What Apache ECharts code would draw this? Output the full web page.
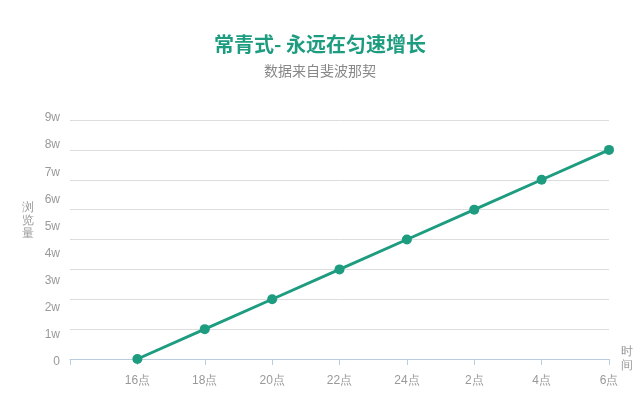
<!doctype html>
<html>
<head>
  <meta charset="utf-8">
  <script src="https://cdn.jsdelivr.net/npm/echarts@6/dist/echarts.min.js"></script>
  <style>
    html, body { width: 100%; height: 100%; margin: 0; background: #fff; }
    #main { width: 640px; height: 400px; }
  </style>
</head>
<body>
  <div id="main"></div>
  <script>
    // 数据
    var hours = ['', '16点', '18点', '20点', '22点', '24点', '2点', '4点', '6点'];
    var views = ['-', 0, 10000, 20000, 30000, 40000, 50000, 60000, 70000];
    var yLabels = ['0', '1w', '2w', '3w', '4w', '5w', '6w', '7w', '8w', '9w'];
    var mainColor = '#1d9c80';

    var chart = echarts.init(document.getElementById('main'));
    var option = {
      title: {
        text: '常青式- 永远在匀速增长',
        subtext: '数据来自斐波那契',
        left: 'center',
        top: 29,
        itemGap: 10,
        textStyle: { color: mainColor, fontSize: 20, fontWeight: 'bold', fontFamily: 'Noto Sans CJK SC' },
        subtextStyle: { color: '#888', fontSize: 14, fontFamily: 'Noto Sans CJK SC' }
      },
      grid: [
        { left: 70, right: 31, top: 120, bottom: 41 },
        { left: 70, right: 31, top: 118, bottom: 38 }
      ],
      xAxis: [{
        type: 'category',
        boundaryGap: false,
        data: hours,
        name: '时\n间',
        nameLocation: 'end',
        nameGap: 12,
        nameTextStyle: { color: '#999', fontSize: 12, lineHeight: 14, align: 'left', verticalAlign: 'middle' },
        axisLine: { lineStyle: { color: '#b8cde0' } },
        axisTick: { length: 6, lineStyle: { color: '#b8cde0' } },
        axisLabel: { color: '#999', fontSize: 12, margin: 16 }
      }, {
        gridIndex: 1,
        type: 'category',
        data: hours,
        show: false
      }],
      yAxis: [{
        type: 'value',
        min: 0,
        max: 80000,
        interval: 10000,
        axisLine: { show: false },
        axisTick: { show: false },
        axisLabel: { show: false },
        splitLine: { lineStyle: { color: '#dddddd' } }
      }, {
        gridIndex: 1,
        type: 'category',
        boundaryGap: false,
        data: yLabels,
        name: '浏\n览\n量',
        nameLocation: 'middle',
        nameRotate: 0,
        nameGap: 36,
        nameTextStyle: { color: '#999', fontSize: 12, lineHeight: 13, verticalAlign: 'bottom' },
        axisLine: { show: false },
        axisTick: { show: false },
        axisLabel: { color: '#999', fontSize: 12, margin: 10 },
        splitLine: { show: false }
      }],
      series: [{
        type: 'line',
        data: views,
        symbol: 'circle',
        symbolSize: 10,
        lineStyle: { color: mainColor, width: 3 },
        itemStyle: { color: mainColor },
        animation: false
      }]
    };
    chart.setOption(option);
  </script>
</body>
</html>
